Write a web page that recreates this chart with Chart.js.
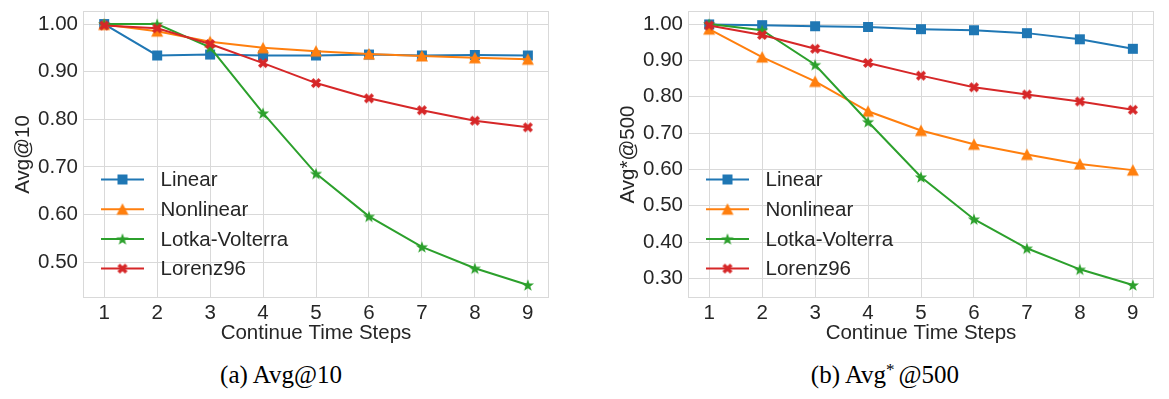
<!DOCTYPE html>
<html><head><meta charset="utf-8">
<script src="https://cdn.jsdelivr.net/npm/chart.js@4.4.1/dist/chart.umd.min.js"></script>
<style>
html,body{margin:0;padding:0;background:#fff;width:1169px;height:399px;overflow:hidden;}
.panel{position:absolute;top:0;}
.cap{position:absolute;font-family:"Liberation Serif","Times New Roman",serif;font-size:25px;color:#000;white-space:nowrap;transform:translateX(-50%);line-height:1;}
.sup{font-size:17px;position:relative;top:-8px;margin-right:4px;}
</style></head><body>
<div class="panel" style="left:0"><canvas id="c1" width="560" height="352"></canvas></div>
<div class="panel" style="left:600px"><canvas id="c2" width="569" height="352"></canvas></div>
<div class="cap" style="left:281px;top:362px">(a) Avg@10</div>
<div class="cap" style="left:885px;top:362px">(b) Avg<span class="sup">*</span>@500</div>
<script>
// ---------- data ----------
const steps = [1, 2, 3, 4, 5, 6, 7, 8, 9];
const seriesNames = ['Linear', 'Nonlinear', 'Lotka-Volterra', 'Lorenz96'];

const avg10Linear    = [1.000, 0.934, 0.936, 0.934, 0.934, 0.936, 0.934, 0.935, 0.934];
const avg10Nonlinear = [0.999, 0.985, 0.963, 0.950, 0.943, 0.937, 0.933, 0.929, 0.926];
const avg10Lotka     = [1.000, 1.000, 0.951, 0.813, 0.686, 0.596, 0.532, 0.487, 0.452];
const avg10Lorenz    = [0.997, 0.991, 0.958, 0.918, 0.876, 0.844, 0.819, 0.797, 0.783];

const avg500Linear    = [0.999, 0.997, 0.994, 0.992, 0.986, 0.983, 0.975, 0.958, 0.932];
const avg500Nonlinear = [0.986, 0.909, 0.842, 0.760, 0.707, 0.669, 0.641, 0.615, 0.598];
const avg500Lotka     = [1.000, 0.983, 0.888, 0.731, 0.579, 0.463, 0.383, 0.325, 0.282];
const avg500Lorenz    = [0.996, 0.970, 0.932, 0.893, 0.858, 0.826, 0.806, 0.787, 0.764];

const xTickValues  = [1, 2, 3, 4, 5, 6, 7, 8, 9];
const yTicksAvg10  = [0.5, 0.6, 0.7, 0.8, 0.9, 1.0];
const yTicksAvg500 = [0.3, 0.4, 0.5, 0.6, 0.7, 0.8, 0.9, 1.0];
const xTitle = 'Continue Time Steps';

// ---------- styles ----------
const seriesColors = ['#1f77b4', '#ff7f0e', '#2ca02c', '#d62728'];
const markerKinds = ['square', 'triangle', 'star', 'xfilled'];
const textColor = '#262626';
const gridColor = '#d9d9d9';
const fontFamily = '"Liberation Sans", Arial, sans-serif';
const fontSize = 20.5;

function makeMarker(kind, color) {
  const c = document.createElement('canvas');
  c.width = 16; c.height = 16;
  const g = c.getContext('2d');
  g.fillStyle = color; g.strokeStyle = color;
  const cx = 8, cy = 8;
  if (kind === 'square') {
    g.fillRect(cx - 5, cy - 5, 10, 10);
  } else if (kind === 'triangle') {
    g.beginPath();
    g.moveTo(cx, cy - 6); g.lineTo(cx - 6, cy + 5.5); g.lineTo(cx + 6, cy + 5.5);
    g.closePath(); g.fill();
  } else if (kind === 'star') {
    const R = 6.4, r = R * 0.40;
    g.beginPath();
    for (let k = 0; k < 10; k++) {
      const ang = -Math.PI / 2 + k * Math.PI / 5;
      const rad = k % 2 === 0 ? R : r;
      const px = cx + rad * Math.cos(ang), py = cy + 0.6 + rad * Math.sin(ang);
      if (k === 0) g.moveTo(px, py); else g.lineTo(px, py);
    }
    g.closePath(); g.fill();
  } else {
    g.lineWidth = 3.6; g.lineCap = 'butt';
    g.beginPath();
    g.moveTo(cx - 3.8, cy - 3.8); g.lineTo(cx + 3.8, cy + 3.8);
    g.moveTo(cx + 3.8, cy - 3.8); g.lineTo(cx - 3.8, cy + 3.8);
    g.stroke();
  }
  return c;
}
const markers = markerKinds.map((k, i) => makeMarker(k, seriesColors[i]));

const framePlugin = {
  id: 'frame',
  beforeDatasetsDraw(chart) {
    const a = chart.chartArea, ctx = chart.ctx;
    ctx.save();
    ctx.strokeStyle = gridColor; ctx.lineWidth = 1;
    ctx.strokeRect(Math.round(a.left) + 0.5, Math.round(a.top) + 0.5,
                   Math.round(a.right - a.left) - 1, Math.round(a.bottom - a.top) - 1);
    ctx.restore();
  }
};

const legendPlugin = {
  id: 'inlineLegend',
  afterDatasetsDraw(chart) {
    const ctx = chart.ctx, a = chart.chartArea;
    ctx.save();
    chart.data.datasets.forEach((ds, i) => {
      const y = a.top + 168.5 + i * 29.7;
      const x0 = a.left + 18, x1 = a.left + 61;
      ctx.strokeStyle = ds.borderColor; ctx.lineWidth = ds.borderWidth;
      ctx.beginPath(); ctx.moveTo(x0, y); ctx.lineTo(x1, y); ctx.stroke();
      const img = ds.pointStyle;
      ctx.drawImage(img, (x0 + x1) / 2 - img.width / 2, y - img.height / 2);
      ctx.fillStyle = textColor;
      ctx.font = fontSize + 'px ' + fontFamily;
      ctx.textBaseline = 'middle'; ctx.textAlign = 'left';
      ctx.fillText(ds.label, a.left + 77.5, y + 1);
    });
    ctx.restore();
  }
};

function makeChart(id, seriesList, yTicks, yTitle, opts) {
  const all = seriesList.flat();
  const dmin = Math.min(...all), dmax = Math.max(...all);
  const span = dmax - dmin;
  const ylo = dmin - 0.05 * span, yhi = dmax + 0.05 * span;
  const xspan = steps[steps.length - 1] - steps[0];
  const xlo = steps[0] - 0.05 * xspan, xhi = steps[steps.length - 1] + 0.05 * xspan;
  const font = { family: fontFamily, size: fontSize };
  return new Chart(document.getElementById(id), {
    type: 'line',
    data: {
      datasets: seriesList.map((vals, i) => ({
        label: seriesNames[i],
        data: steps.map((s, k) => ({ x: s, y: vals[k] })),
        borderColor: seriesColors[i],
        backgroundColor: seriesColors[i],
        borderWidth: 2,
        pointStyle: markers[i],
        pointRadius: 5,
        pointHoverRadius: 5,
        order: 3 - i,
        tension: 0,
        fill: false
      }))
    },
    options: {
      responsive: false, animation: false, devicePixelRatio: 1,
      layout: { padding: { top: 11, right: opts.padRight, left: 0, bottom: 0 } },
      plugins: { legend: { display: false }, tooltip: { enabled: false } },
      events: [],
      scales: {
        x: {
          type: 'linear', min: xlo, max: xhi,
          afterBuildTicks: s => { s.ticks = xTickValues.map(v => ({ value: v })); },
          afterFit: s => { s.height = 54; s.paddingLeft = 0; s.paddingRight = 0; },
          grid: { color: gridColor, lineWidth: 1, drawTicks: false },
          border: { display: false },
          ticks: { font, color: textColor, padding: 3, maxRotation: 0, autoSkip: false,
                   callback: v => String(v) },
          title: { display: true, text: xTitle, font, color: textColor, padding: { top: 0, bottom: 6 } }
        },
        y: {
          type: 'linear', min: ylo, max: yhi,
          afterBuildTicks: s => { s.ticks = yTicks.map(v => ({ value: v })); },
          afterFit: s => { s.width = opts.yWidth; s.paddingTop = 0; s.paddingBottom = 0; },
          grid: { color: gridColor, lineWidth: 1, drawTicks: false },
          border: { display: false },
          ticks: { font, color: textColor, padding: 5, autoSkip: false,
                   callback: v => Number(v).toFixed(2) },
          title: { display: true, text: yTitle, font, color: textColor, padding: { top: opts.yTitlePad, bottom: 0 } }
        }
      }
    },
    plugins: [framePlugin, legendPlugin]
  });
}

makeChart('c1', [avg10Linear, avg10Nonlinear, avg10Lotka, avg10Lorenz], yTicksAvg10, 'Avg@10',
  { padRight: 11, yWidth: 83, yTitlePad: 11 });
makeChart('c2', [avg500Linear, avg500Nonlinear, avg500Lotka, avg500Lorenz], yTicksAvg500, 'Avg*@500',
  { padRight: 15, yWidth: 88, yTitlePad: 16 });
</script>
</body></html>
